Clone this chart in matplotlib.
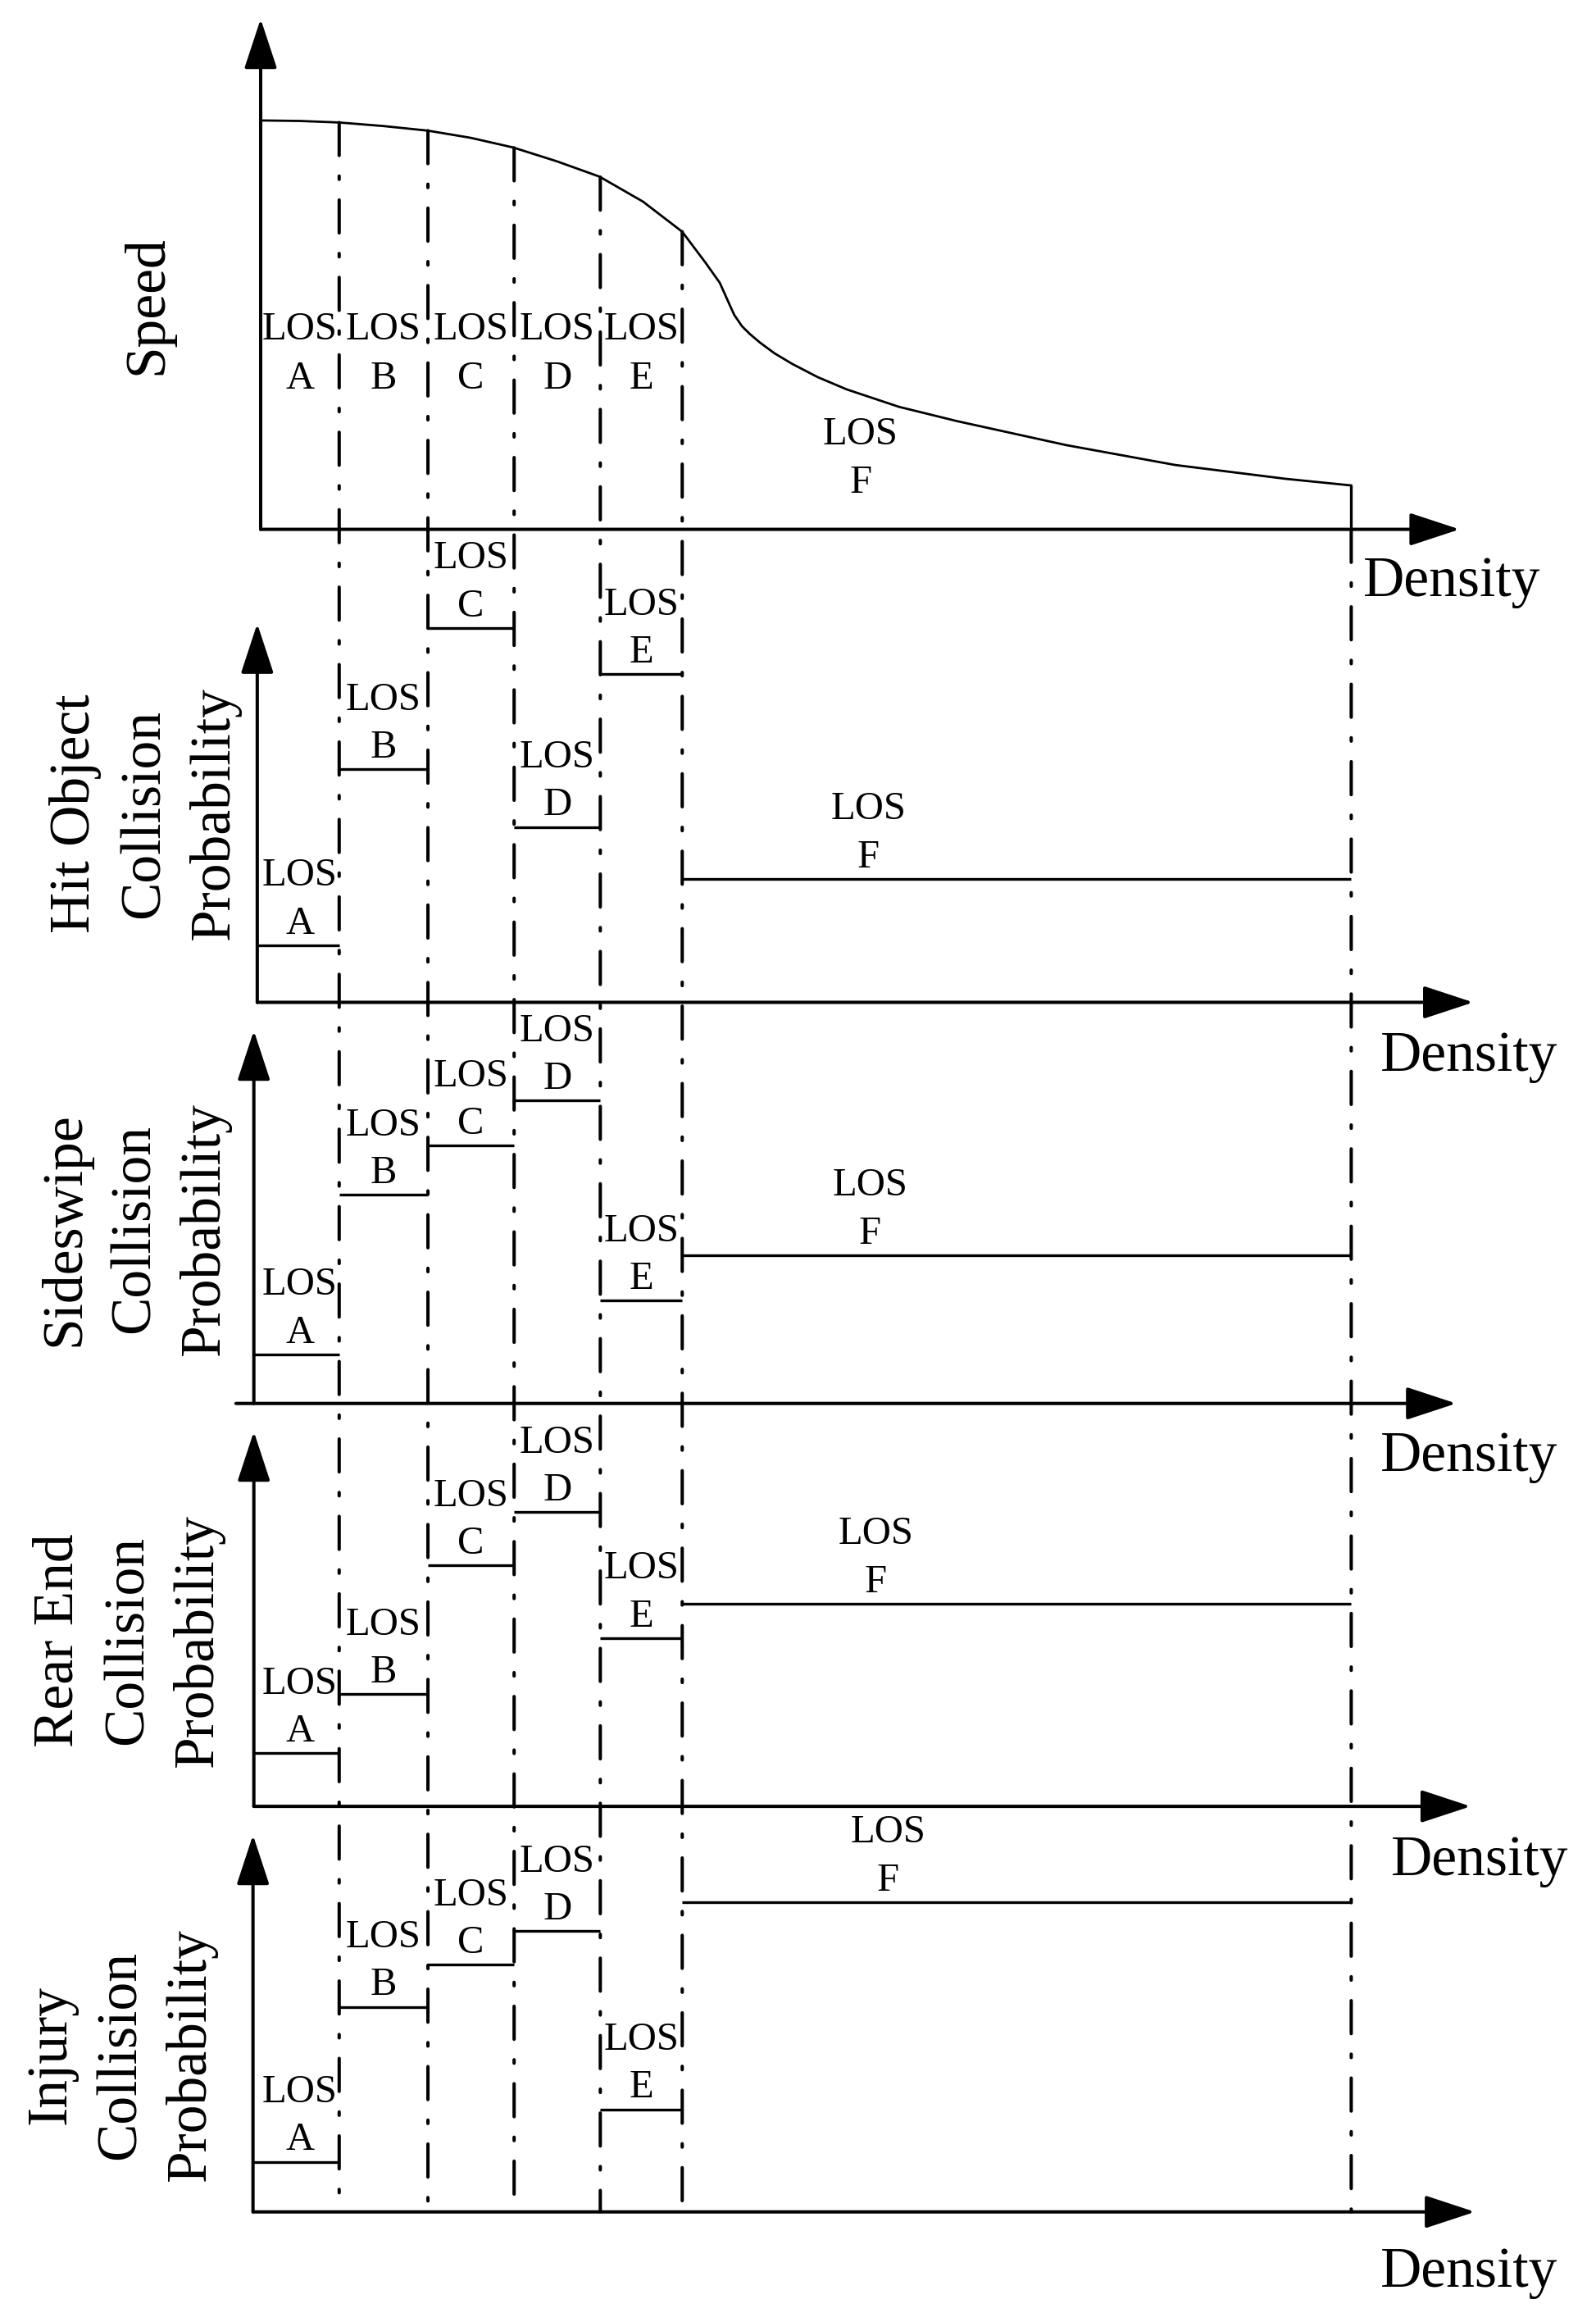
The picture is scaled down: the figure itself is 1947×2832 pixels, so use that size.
import matplotlib
matplotlib.use("Agg")
import matplotlib.pyplot as plt
from matplotlib.patches import ConnectionPatch
import numpy as np

plt.rcParams["font.family"] = ["Liberation Serif", "DejaVu Serif"]
plt.rcParams["lines.scale_dashes"] = False

# ---- data (density in arbitrary units, values relative to each y axis) ----
los_levels = ["A", "B", "C", "D", "E", "F"]
los_edges = [0, 9.2, 19.6, 29.7, 39.8, 49.4, 127.8]

speed_density = [0, 4.6, 9.2, 14.4, 19.6, 24.6, 29.6, 34.7, 39.7, 44.8, 49.4,
                 52.1, 53.8, 54.9, 55.5, 56.4, 57.3, 58.5, 60.2, 62.3, 65.3,
                 68.7, 74.8, 81.6, 94.4, 107.2, 120.1, 127.8]
speed_value = [0.801, 0.800, 0.797, 0.790, 0.781, 0.767, 0.748, 0.721, 0.691,
               0.642, 0.583, 0.523, 0.483, 0.442, 0.420, 0.398, 0.383, 0.366,
               0.345, 0.324, 0.298, 0.274, 0.240, 0.212, 0.165, 0.126, 0.099,
               0.086]

hit_object = [0.151, 0.615, 0.989, 0.463, 0.866, 0.326]
sideswipe = [0.132, 0.560, 0.692, 0.813, 0.276, 0.398]
rear_end = [0.142, 0.299, 0.643, 0.785, 0.449, 0.541]
injury = [0.133, 0.544, 0.656, 0.745, 0.272, 0.822]

panel_titles = ["Speed",
                "Hit Object\nCollision\nProbability",
                "Sideswipe\nCollision\nProbability",
                "Rear End\nCollision\nProbability",
                "Injury\nCollision\nProbability"]
step_series = [None, hit_object, sideswipe, rear_end, injury]

# ---- layout (pixels of the 1947x2832 canvas) ----
W, H = 1947, 2832
X0_PX, PX_PER_UNIT = 318, 10.41
XLIM = (-5, 152)
panel_axis_px = [645.6, 1222.5, 1711.7, 2203.1, 2697.7]
panel_tip_px = [23, 760.6, 1257, 1746, 2238]
y_axis_at = [0, -0.4, -0.8, -0.8, -0.9]
x_axis_from = [0, -0.4, -2.9, -0.8, -0.9]
x_axis_to = [140.5, 142.1, 140.1, 141.8, 142.3]
density_label_x = [139.6, 141.6, 141.6, 142.9, 141.6]
density_label_drop = [81, 83.5, 82.3, 84.4, 91.3]
title_xy_px = [(180, 372), (177, 992), (165, 1499), (157, 2001), (148, 2506)]
f_label_x = [70.3, 71.2, 71.4, 72.1, 73.5]
speed_label_y = [0.26, 0.26, 0.26, 0.26, 0.26, 0.055]

PT = 72 / 100  # points per pixel at dpi 100
LOS_SIZE = 35
BIG_SIZE = 50
arrow = dict(arrowstyle="-|>,head_length=38,head_width=12.5", mutation_scale=1,
             lw=2.9, color="black", shrinkA=0, shrinkB=0)
dashdot = (0, (29, 18, 3, 18))

fig = plt.figure(figsize=(W / 100, H / 100), dpi=100)
fig.patch.set_facecolor("white")

axes = []
for i in range(5):
    left = (X0_PX + XLIM[0] * PX_PER_UNIT) / W
    width = (XLIM[1] - XLIM[0]) * PX_PER_UNIT / W
    bottom = 1 - panel_axis_px[i] / H
    height = (panel_axis_px[i] - panel_tip_px[i]) / H
    ax = fig.add_axes([left, bottom, width, height])
    ax.set_xlim(*XLIM)
    ax.set_ylim(0, 1)
    ax.axis("off")
    axes.append(ax)

    # axis arrows
    ax.annotate("", xy=(x_axis_to[i], 0), xytext=(x_axis_from[i], 0),
                arrowprops=arrow, annotation_clip=False)
    ax.annotate("", xy=(y_axis_at[i], 1), xytext=(y_axis_at[i], 0),
                arrowprops=arrow, annotation_clip=False)
    ax.annotate("Density", xy=(density_label_x[i], 0),
                xytext=(0, -density_label_drop[i] * PT), textcoords="offset points",
                ha="center", va="baseline", fontsize=BIG_SIZE, annotation_clip=False)

    tx, ty = title_xy_px[i]
    fig.text(tx / W, 1 - ty / H, panel_titles[i], rotation=90, ha="center",
             va="center", multialignment="center", fontsize=BIG_SIZE, linespacing=1.44)

    centers = [(los_edges[k] + los_edges[k + 1]) / 2 for k in range(5)] + [f_label_x[i]]
    if i == 0:
        ax.plot(speed_density, speed_value, color="black", lw=2.0, clip_on=False,
                solid_joinstyle="round")
        ax.vlines(speed_density[-1], 0, speed_value[-1], color="black", lw=2.4)
        for lvl, cx, ly in zip(los_levels, centers, speed_label_y):
            ax.text(cx, ly, f"LOS\n{lvl}", ha="center", va="bottom",
                    fontsize=LOS_SIZE, linespacing=1.45)
    else:
        vals = step_series[i]
        lefts = [y_axis_at[i]] + los_edges[1:-1]
        rights = los_edges[1:]
        ax.hlines(vals, lefts, rights, colors="black", lw=2.4, clip_on=False)
        for lvl, cx, v in zip(los_levels, centers, vals):
            ax.annotate(f"LOS\n{lvl}", xy=(cx, v), xytext=(0, 3),
                        textcoords="offset points", ha="center", va="bottom",
                        fontsize=LOS_SIZE, linespacing=1.42, annotation_clip=False)

# LOS boundary lines running from the speed curve down to the last density axis
ax_speed, ax_last = axes[0], axes[-1]
for b in los_edges[1:]:
    top = 0 if b == los_edges[-1] else float(np.interp(b, speed_density, speed_value))
    con = ConnectionPatch(xyA=(b, top), coordsA=ax_speed.transData,
                          xyB=(b, 0), coordsB=ax_last.transData,
                          linestyle=dashdot, lw=2.9, color="black")
    fig.add_artist(con)

fig.savefig("out.png", dpi=100, facecolor="white")
